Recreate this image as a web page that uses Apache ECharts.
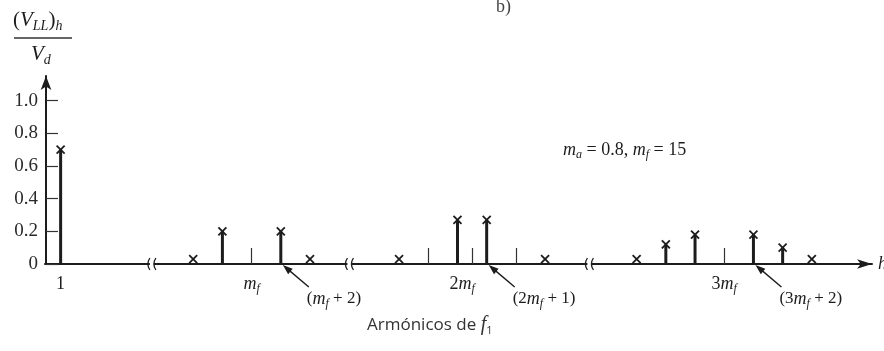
<!DOCTYPE html>
<html>
<head>
<meta charset="utf-8">
<script src="https://cdn.jsdelivr.net/npm/echarts@6/dist/echarts.min.js"></script>
<style>
  html, body { margin: 0; padding: 0; background: #fff; }
  #chart { width: 884px; height: 351px; }
</style>
</head>
<body>
<div id="chart"></div>
<script>
// Harmonic spectrum of the line-to-line voltage, ma = 0.8, mf = 15
const harmonics  = [1,    11,   13,   17,   19,   25,   29,   31,   35,   39,   41,   43,   47,   49,   51];
const amplitudes = [0.70, 0.03, 0.20, 0.20, 0.03, 0.03, 0.27, 0.27, 0.03, 0.03, 0.12, 0.18, 0.18, 0.10, 0.03];

// Triplen orders cancel between phases: only a short tick is drawn
const triplenOrders = [15, 27, 30, 33, 45];

// Labelled orders along the harmonic axis
const axisLabelOrders = [1, 15, 30, 45];
const axisLabelTexts  = ['1', '{i|m}{s|f}', '2{i|m}{s|f}{pad|}', '3{i|m}{s|f}'];

// Sidebands pointed out with an arrow
const calloutOrders = [17, 31, 47];
const calloutTexts  = ['({i|m}{s|f} + 2)', '(2{i|m}{s|f} + 1)', '(3{i|m}{s|f} + 2)'];

// Vertical axis ticks
const yTicks = [0, 0.2, 0.4, 0.6, 0.8, 1.0];

// Breaks in the harmonic axis (harmonic order units)
const axisBreaks = [
  { start: 7.25, end: 8.17, gap: 0 },
  { start: 21.6, end: 21.7, gap: 0.2 },
  { start: 36.8, end: 37.0, gap: 2.47 }
];

const serif = 'Liberation Serif';
const ink = '#1c1c1c';
const axisWidth = 2;

const rich = {
  i:   { fontFamily: serif, fontStyle: 'italic', fontSize: 18, color: ink },
  s:   { fontFamily: serif, fontStyle: 'italic', fontSize: 12, color: ink, verticalAlign: 'bottom', lineHeight: 12 },
  pad: { width: 20 }
};

const richBig = {
  i: { fontFamily: serif, fontStyle: 'italic', fontSize: 21, color: ink },
  s: { fontFamily: serif, fontStyle: 'italic', fontSize: 14, color: ink, verticalAlign: 'bottom', lineHeight: 13 }
};

const chart = echarts.init(document.getElementById('chart'));

const option = {
  backgroundColor: '#fff',
  animation: false,
  grid: { left: 45, right: 12, top: 76, bottom: 87, outerBoundsMode: 'none' },
  xAxis: {
    type: 'value',
    min: -0.07,
    max: 55.12,
    breaks: axisBreaks,
    breakArea: { show: false },
    splitLine: { show: false },
    axisLine: {
      onZero: false,
      symbol: ['none', 'arrow'],
      symbolSize: [7, 15],
      lineStyle: { color: ink, width: axisWidth }
    },
    axisTick: {
      show: true,
      inside: true,
      length: 16,
      customValues: triplenOrders,
      lineStyle: { color: '#333', width: 1.2 }
    },
    axisLabel: {
      show: true,
      margin: 9,
      customValues: axisLabelOrders,
      formatter: (v) => axisLabelTexts[axisLabelOrders.indexOf(v)] || '',
      fontFamily: serif,
      fontSize: 18,
      color: ink,
      lineHeight: 22,
      rich: rich
    },
    name: 'h',
    nameLocation: 'end',
    nameGap: 6,
    nameTextStyle: { fontFamily: serif, fontStyle: 'italic', fontSize: 18, color: ink }
  },
  yAxis: {
    type: 'value',
    min: 0,
    max: 1.15,
    splitLine: { show: false },
    axisLine: {
      show: true,
      symbol: ['none', 'arrow'],
      symbolSize: [8, 14],
      lineStyle: { color: ink, width: axisWidth }
    },
    axisTick: {
      show: true,
      inside: true,
      length: 12,
      customValues: yTicks,
      lineStyle: { color: '#333', width: 1.2 }
    },
    axisLabel: {
      customValues: yTicks,
      margin: 7,
      fontFamily: serif,
      fontSize: 19,
      color: '#2a2a2a',
      formatter: (v) => (v === 0 ? '0' : v.toFixed(1))
    }
  },
  series: [
    {
      // stems with an x at each amplitude
      type: 'custom',
      data: harmonics.map((h, i) => [h, amplitudes[i]]),
      encode: { x: 0, y: 1 },
      renderItem: (params, api) => {
        const h = api.value(0), v = api.value(1);
        const base = api.coord([h, 0]);
        const top = api.coord([h, v]);
        const r = 4;
        const children = [];
        if (v > 0.06) {
          children.push({
            type: 'line',
            shape: { x1: base[0], y1: base[1], x2: top[0], y2: top[1] },
            style: { stroke: ink, lineWidth: 3 }
          });
        }
        children.push({
          type: 'line',
          shape: { x1: top[0] - r, y1: top[1] - r, x2: top[0] + r, y2: top[1] + r },
          style: { stroke: ink, lineWidth: 1.8 }
        });
        children.push({
          type: 'line',
          shape: { x1: top[0] + r, y1: top[1] - r, x2: top[0] - r, y2: top[1] + r },
          style: { stroke: ink, lineWidth: 1.8 }
        });
        return { type: 'group', children: children };
      },
      z: 5
    },
    {
      // break marks on the harmonic axis, with the axis line carried across each break
      type: 'custom',
      data: axisBreaks.map((b) => [(b.start + b.end) / 2, 0, b.start - 1, b.end + 1]),
      encode: { x: 0, y: 1 },
      renderItem: (params, api) => {
        const p = api.coord([api.value(0), 0]);
        const ps = api.coord([api.value(2), 0]);
        const pe = api.coord([api.value(3), 0]);
        const x = p[0], y = Math.round(p[1]);
        const arc = (cx) => ({
          type: 'bezierCurve',
          shape: { x1: cx + 1, y1: y - 6, x2: cx + 1, y2: y + 6, cpx1: cx - 3, cpy1: y },
          style: { stroke: ink, lineWidth: 1.3, fill: null }
        });
        return {
          type: 'group',
          children: [
            { type: 'line', shape: { x1: ps[0], y1: y, x2: pe[0], y2: y }, style: { stroke: ink, lineWidth: axisWidth } },
            { type: 'rect', shape: { x: x - 2, y: y - 2, width: 4, height: 4 }, style: { fill: '#fff' } },
            arc(x - 3),
            arc(x + 3)
          ]
        };
      },
      z: 6
    },
    {
      // arrows pointing out single sidebands
      type: 'custom',
      data: calloutOrders.map((h, i) => [h, 0, i]),
      encode: { x: 0, y: 1 },
      renderItem: (params, api) => {
        const p = api.coord([api.value(0), 0]);
        const idx = api.value(2);
        const tx = p[0] + 2, ty = p[1] + 1;
        const ex = p[0] + 28, ey = p[1] + 23;
        const dx = ex - tx, dy = ey - ty, len = Math.hypot(dx, dy);
        const ux = dx / len, uy = dy / len;
        const hl = 10, hw = 3.5;
        return {
          type: 'group',
          children: [
            {
              type: 'line',
              shape: { x1: tx + ux * 6, y1: ty + uy * 6, x2: ex, y2: ey },
              style: { stroke: ink, lineWidth: 1.4 }
            },
            {
              type: 'polygon',
              shape: {
                points: [
                  [tx, ty],
                  [tx + ux * hl - uy * hw, ty + uy * hl + ux * hw],
                  [tx + ux * hl + uy * hw, ty + uy * hl - ux * hw]
                ]
              },
              style: { fill: ink }
            },
            {
              type: 'text',
              x: p[0] + 26,
              y: p[1] + 35,
              style: {
                text: calloutTexts[idx],
                fontFamily: serif,
                fontSize: 17,
                fill: ink,
                lineHeight: 22,
                verticalAlign: 'middle',
                align: 'left',
                rich: rich
              }
            }
          ]
        };
      },
      z: 6
    }
  ],
  graphic: [
    {
      type: 'text',
      left: 13,
      top: 8,
      style: {
        text: '({i|V}{s|LL}){s|h}',
        fontFamily: serif,
        fontSize: 21,
        lineHeight: 25,
        fill: ink,
        rich: richBig
      }
    },
    {
      type: 'line',
      shape: { x1: 14, y1: 38, x2: 72, y2: 38 },
      style: { stroke: '#333', lineWidth: 1.5 }
    },
    {
      type: 'text',
      left: 31,
      top: 42,
      style: {
        text: '{i|V}{s|d}',
        fontFamily: serif,
        fontSize: 21,
        lineHeight: 25,
        fill: ink,
        rich: richBig
      }
    },
    {
      type: 'text',
      left: 563,
      top: 139,
      style: {
        text: '{i|m}{s|a} = 0.8, {i|m}{s|f} = 15',
        fontFamily: serif,
        fontSize: 18,
        lineHeight: 22,
        fill: ink,
        rich: rich
      }
    },
    {
      type: 'text',
      left: 367,
      top: 314,
      style: {
        text: 'Armónicos de {f|f}{s|1}',
        fontFamily: 'Open Sans',
        fontSize: 17,
        lineHeight: 22,
        fill: '#333',
        rich: {
          f: { fontFamily: serif, fontStyle: 'italic', fontSize: 20, color: '#333' },
          s: { fontFamily: 'Open Sans', fontSize: 11, color: '#333', verticalAlign: 'bottom', lineHeight: 12 }
        }
      }
    },
    {
      type: 'text',
      left: 496,
      top: -2,
      style: { text: 'b)', fontFamily: serif, fontSize: 18, fill: '#444' }
    }
  ]
};

chart.setOption(option);
</script>
</body>
</html>
